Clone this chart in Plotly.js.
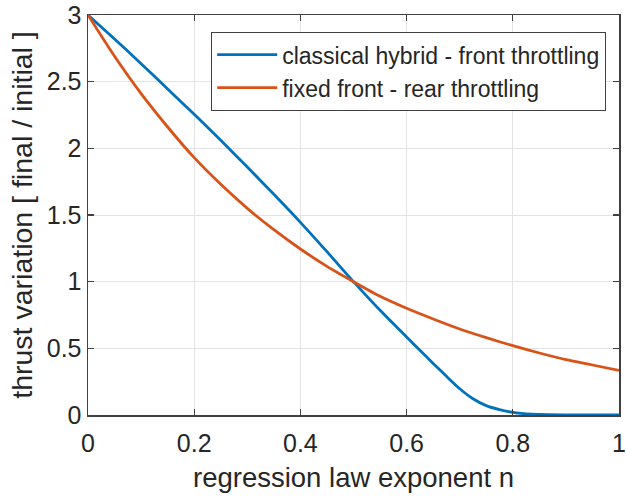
<!DOCTYPE html>
<html>
<head>
<meta charset="utf-8">
<script src="https://cdn.plot.ly/plotly-3.0.1.min.js"></script>
<style>html,body{margin:0;padding:0;background:#fff;}#chart{width:626px;height:496px;}</style>
</head>
<body>
<div id="chart"></div>
<script>
// Values
const exponentHybrid = [0, 0.05, 0.1, 0.15, 0.2, 0.25, 0.3, 0.35, 0.4, 0.45, 0.5, 0.55, 0.6, 0.625, 0.65, 0.675, 0.7, 0.725, 0.75, 0.775, 0.8, 0.825, 0.85, 0.9, 0.95, 1.0];
const classicalHybrid = [3.00, 2.82, 2.635, 2.445, 2.255, 2.06, 1.86, 1.655, 1.445, 1.225, 1.00, 0.785, 0.585, 0.485, 0.387, 0.29, 0.197, 0.122, 0.07, 0.04, 0.02, 0.009, 0.004, 0.001, 0.0, 0.0];
const exponentFixed = [0, 0.05, 0.1, 0.15, 0.2, 0.25, 0.3, 0.35, 0.4, 0.45, 0.5, 0.55, 0.6, 0.65, 0.7, 0.75, 0.8, 0.85, 0.9, 0.95, 1.0];
const fixedFront = [3.00, 2.69, 2.41, 2.16, 1.93, 1.73, 1.55, 1.39, 1.245, 1.115, 1.00, 0.89, 0.80, 0.72, 0.645, 0.58, 0.52, 0.465, 0.415, 0.375, 0.335];
const seriesNames = ["classical hybrid - front throttling", "fixed front - rear throttling"];
const xTickVals = [0, 0.2, 0.4, 0.6, 0.8, 1];
const xTickText = ["0", "0.2", "0.4", "0.6", "0.8", "1"];
const yTickVals = [0, 0.5, 1, 1.5, 2, 2.5, 3];
const yTickText = ["0", "0.5", "1", "1.5", "2", "2.5", "3"];

const FONT = "Liberation Sans, Arial, sans-serif";
const TXT = "#262626";

const traces = [
  {x: exponentHybrid, y: classicalHybrid, name: seriesNames[0], mode: "lines",
   line: {color: "#0072BD", width: 2.8, shape: "spline", smoothing: 0.7}},
  {x: exponentFixed, y: fixedFront, name: seriesNames[1], mode: "lines",
   line: {color: "#D95319", width: 2.8, shape: "spline", smoothing: 0.7}}
];

const axisCommon = {
  showline: true, linecolor: "#404040", linewidth: 1.5, mirror: "ticks",
  ticks: "inside", ticklen: 6, tickwidth: 1.2, tickcolor: "#404040",
  showgrid: true, gridcolor: "#e3e3e3", gridwidth: 1, zeroline: false,
  tickfont: {family: FONT, size: 25, color: TXT}
};

const layout = {
  width: 626, height: 496,
  margin: {l: 88, r: 7, t: 15, b: 81},
  paper_bgcolor: "#fff", plot_bgcolor: "#fff",
  showlegend: true,
  legend: {x: 0.9755, xanchor: "right", y: 0.9575, yanchor: "top",
           bgcolor: "#fff", bordercolor: "#404040", borderwidth: 1.2,
           itemwidth: 60,
           font: {family: FONT, size: 23, color: TXT}},
  xaxis: Object.assign({}, axisCommon, {
    range: [0, 1], tickvals: xTickVals, ticktext: xTickText,
    ticklabelstandoff: 5,
    title: {text: "regression law exponent n", font: {family: FONT, size: 27.5, color: TXT}, standoff: 12}
  }),
  yaxis: Object.assign({}, axisCommon, {
    range: [0, 3], tickvals: yTickVals, ticktext: yTickText,
    title: {text: "thrust variation [ final / initial ]", font: {family: FONT, size: 28.5, color: TXT}, standoff: 6}
  })
};

Plotly.newPlot("chart", traces, layout, {displayModeBar: false, staticPlot: true});
</script>
</body>
</html>
